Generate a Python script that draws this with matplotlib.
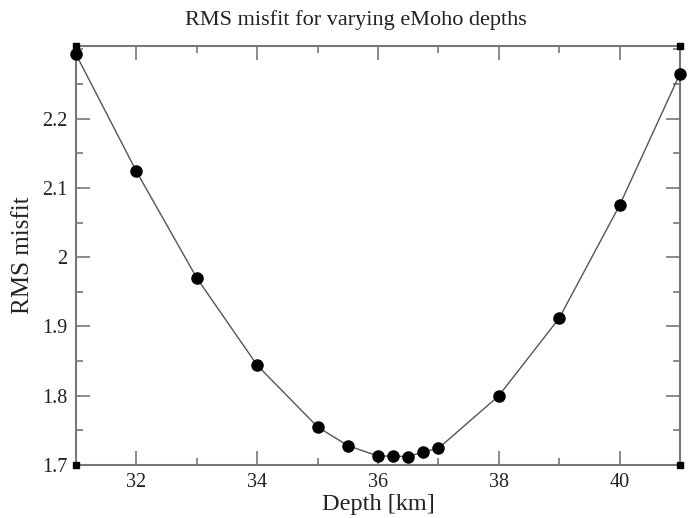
import matplotlib
matplotlib.use("Agg")
import matplotlib.pyplot as plt
from matplotlib.ticker import MultipleLocator

depth = [31, 32, 33, 34, 35, 35.5, 36, 36.25, 36.5, 36.75, 37, 38, 39, 40, 41]
rms = [2.293, 2.124, 1.970, 1.844, 1.755, 1.728, 1.713, 1.713, 1.712, 1.719, 1.724, 1.800, 1.912, 2.075, 2.265]
yticks = [1.7, 1.8, 1.9, 2.0, 2.1, 2.2]
ytick_labels = ["1.7", "1.8", "1.9", "2", "2.1", "2.2"]
xticks = [32, 34, 36, 38, 40]

plt.rcParams['font.family'] = ['Liberation Serif', 'DejaVu Serif']

fig = plt.figure(figsize=(6.89, 5.18), dpi=100)
ax = fig.add_axes([76/689, 1-465/518, (680-76)/689, (465-46)/518])

ax.plot(depth, rms, color='#555555', lw=1.0, marker='o', ms=8,
        mfc='black', mec='black', zorder=3, clip_on=False)

ax.set_xlim(31, 41)
ax.set_ylim(1.7, 2.305)
ax.set_xticks(xticks)
ax.set_yticks(yticks)
ax.set_yticklabels(ytick_labels)
ax.xaxis.set_minor_locator(MultipleLocator(1))
ax.yaxis.set_minor_locator(MultipleLocator(0.05))

spine_col = '#777777'
for s in ax.spines.values():
    s.set_color(spine_col)
    s.set_linewidth(1.5)

ax.tick_params(which='both', direction='in', top=True, right=True,
               color=spine_col, width=1.2, labelsize=14.5, labelcolor='#222222')
ax.tick_params(which='major', length=10, pad=6)
ax.tick_params(which='minor', length=5)

# corner squares
for cx, cy in [(0, 0), (0, 1), (1, 0), (1, 1)]:
    ax.plot(cx, cy, marker='s', ms=5, color='black', transform=ax.transAxes,
            clip_on=False, zorder=4)

ax.set_xlabel("Depth [km]", fontsize=17.5, color='#222222', labelpad=1)
ax.set_ylabel("RMS misfit", fontsize=18, color='#222222', labelpad=6)
fig.text(356/689, 1-20/518, "RMS misfit for varying eMoho depths", fontsize=16,
         color='#222222', ha='center', va='center')

fig.savefig("out.png", dpi=100)
